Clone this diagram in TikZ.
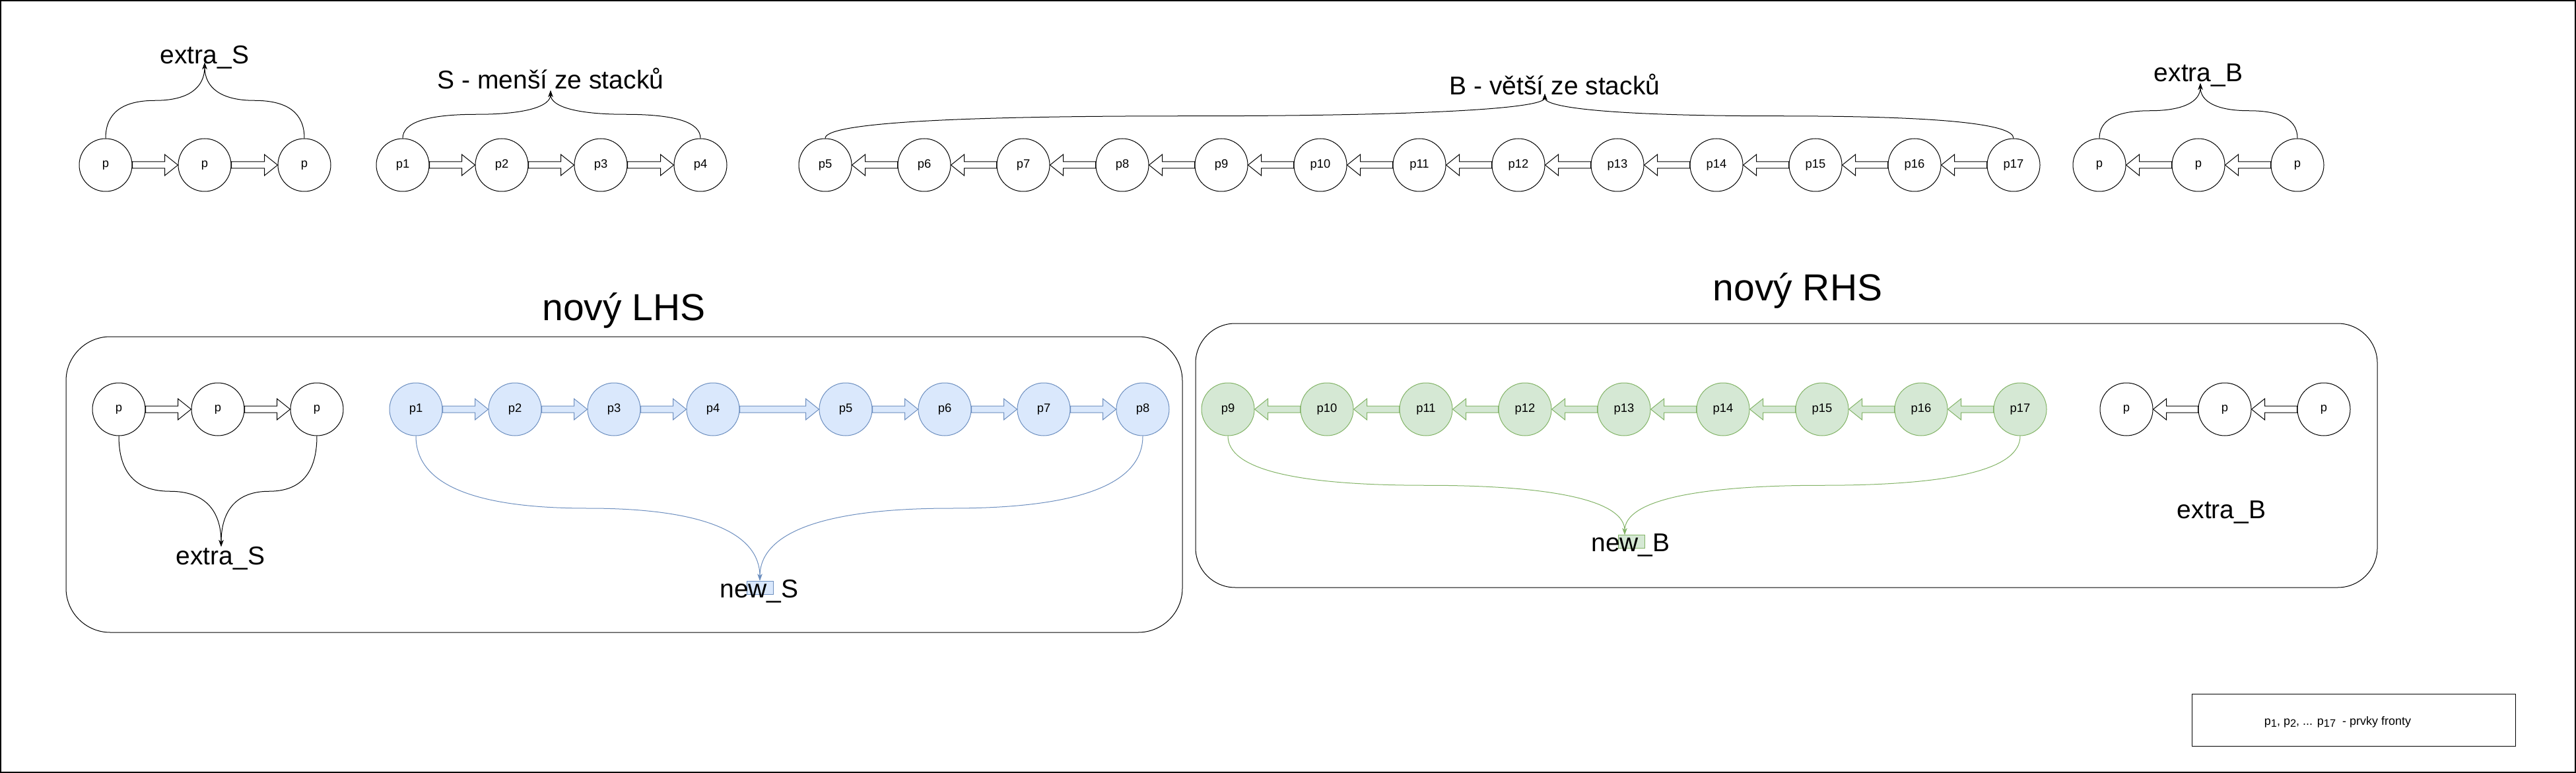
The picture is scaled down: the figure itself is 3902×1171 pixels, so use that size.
\documentclass[tikz,border=0pt]{standalone}
\usepackage{fontspec}
\setmainfont{Liberation Sans}
\usetikzlibrary{arrows.meta,calc}
\definecolor{bfill}{HTML}{DAE8FC}
\definecolor{bline}{HTML}{6C8EBF}
\definecolor{gfill}{HTML}{D5E8D4}
\definecolor{gline}{HTML}{82B366}
% flex arrow: #1 style, #2 start, #3 tip, #4 direction (1 right, -1 left)
\newcommand{\flexarr}[4]{%
  \filldraw[#1] let \p1=(#2), \p2=(#3) in
    ({\x1},{\y1+2.5pt}) -- ({\x2-(#4)*10pt},{\y1+2.5pt}) -- ({\x2-(#4)*10pt},{\y1+8pt})
    -- ({\x2},{\y1}) -- ({\x2-(#4)*10pt},{\y1-8pt}) -- ({\x2-(#4)*10pt},{\y1-2.5pt})
    -- ({\x1},{\y1-2.5pt}) -- cycle;}
% curved connector (drawio style): #1 style, #2 start, #3 end
\newcommand{\bcurve}[3]{%
  \draw[#1] let \p1=(#2), \p2=(#3) in
    (\p1) .. controls ({\x1},{\y1+(\y2-\y1)/3}) and ({(5*\x1+\x2)/6},{(\y1+\y2)/2})
    .. ({(\x1+\x2)/2},{(\y1+\y2)/2})
    .. controls ({(\x1+5*\x2)/6},{(\y1+\y2)/2}) and ({\x2},{\y2+(\y1-\y2)/3}) .. (\p2);}
\newcommand{\sbs}[1]{\raisebox{-0.35ex}{\fontsize{8.2}{9}\selectfont #1}}
\tikzset{
  circ/.style={circle, draw=black, fill=white, line width=0.5pt, minimum size=40pt,
    inner sep=0pt, font=\fontsize{9.2}{11}\selectfont},
  bcirc/.style={circ, draw=bline, fill=bfill},
  gcirc/.style={circ, draw=gline, fill=gfill},
  lbl/.style={font=\fontsize{19.5}{23}\selectfont, inner sep=0pt, anchor=base},
  ttl/.style={font=\fontsize{28.5}{34}\selectfont, inner sep=0pt, anchor=base},
  farr/.style={draw=black, fill=white, line width=0.5pt},
  bfarr/.style={draw=bline, fill=bfill, line width=0.5pt},
  gfarr/.style={draw=gline, fill=gfill, line width=0.5pt},
  conn/.style={draw=black, line width=0.5pt, -{Stealth[length=5pt,width=3.6pt]}},
  bconn/.style={conn, draw=bline, -{Stealth[length=5pt,width=3.6pt,color=bline]}},
  gconn/.style={conn, draw=gline, -{Stealth[length=5pt,width=3.6pt,color=gline]}},
  frame/.style={draw=black, line width=0.5pt, inner sep=0pt},
}
\begin{document}
\begin{tikzpicture}[x=0.5pt,y=-0.5pt]
\useasboundingbox (0,0) rectangle (3902,1171);
% outer frame
\node[frame, line width=1pt, minimum width=1950pt, minimum height=584.5pt] (outer) at (1951,585.5) {};
% group boxes
\node[frame, rounded corners=33.5pt, minimum width=845.5pt, minimum height=224pt] (lhsbox) at (945.5,734) {};
\node[frame, rounded corners=30pt, minimum width=895pt, minimum height=200pt] (rhsbox) at (2706,690) {};
\node[frame, minimum width=245pt, minimum height=39.5pt] (legbox) at (3565,1090.5) {};
% ---------------- top row ----------------
\node[circ] (tes1) at (160,250) {p};
\node[circ] (tes2) at (310,250) {p};
\node[circ] (tes3) at (461,250) {p};
\node[circ] (ts1) at (610,250) {p1};
\node[circ] (ts2) at (760,250) {p2};
\node[circ] (ts3) at (910,250) {p3};
\node[circ] (ts4) at (1061,250) {p4};
\foreach \i in {5,...,17} \node[circ] (tb\i) at ({1250+150*(\i-5)},250) {p\i};
\node[circ] (teb1) at (3180,250) {p};
\node[circ] (teb2) at (3330,250) {p};
\node[circ] (teb3) at (3480,250) {p};
\flexarr{farr}{tes1.east}{tes2.west}{1}
\flexarr{farr}{tes2.east}{tes3.west}{1}
\foreach \i/\j in {1/2,2/3,3/4} {\flexarr{farr}{ts\i.east}{ts\j.west}{1}}
\foreach \i/\j in {6/5,7/6,8/7,9/8,10/9,11/10,12/11,13/12,14/13,15/14,16/15,17/16}
  {\flexarr{farr}{tb\i.west}{tb\j.east}{-1}}
\flexarr{farr}{teb2.west}{teb1.east}{-1}
\flexarr{farr}{teb3.west}{teb2.east}{-1}
\node[lbl] (tES) at (310,97) {extra\_S};
\node[lbl] (tS) at (834,135) {S - menší ze stacků};
\node[lbl] (tB) at (2355,144) {B - větší ze stacků};
\node[lbl] (tEB) at (3330,124) {extra\_B};
\coordinate (tipTES) at (310,95);
\coordinate (tipTS) at (834,137);
\coordinate (tipTB) at (2340,142);
\coordinate (tipTEB) at (3333,126);
\bcurve{conn}{tes1.north}{tipTES}
\bcurve{conn}{tes3.north}{tipTES}
\bcurve{conn}{ts1.north}{tipTS}
\bcurve{conn}{ts4.north}{tipTS}
\bcurve{conn}{tb5.north}{tipTB}
\bcurve{conn}{tb17.north}{tipTB}
\bcurve{conn}{teb1.north}{tipTEB}
\bcurve{conn}{teb3.north}{tipTEB}
% ---------------- new LHS ----------------
\node[ttl] (tLHS) at (945,486) {nový LHS};
\node[circ] (les1) at (180,620) {p};
\node[circ] (les2) at (330,620) {p};
\node[circ] (les3) at (480,620) {p};
\node[bcirc] (lp1) at (630,620) {p1};
\node[bcirc] (lp2) at (780,620) {p2};
\node[bcirc] (lp3) at (930,620) {p3};
\node[bcirc] (lp4) at (1080,620) {p4};
\node[bcirc] (lp5) at (1281,620) {p5};
\node[bcirc] (lp6) at (1431,620) {p6};
\node[bcirc] (lp7) at (1581,620) {p7};
\node[bcirc] (lp8) at (1731,620) {p8};
\flexarr{farr}{les1.east}{les2.west}{1}
\flexarr{farr}{les2.east}{les3.west}{1}
\foreach \i/\j in {1/2,2/3,3/4,4/5,5/6,6/7,7/8} {\flexarr{bfarr}{lp\i.east}{lp\j.west}{1}}
\node[draw=bline, fill=bfill, line width=0.5pt, minimum width=20pt, minimum height=10pt, inner sep=0pt] (nsr) at (1151,890) {};
\node[lbl] (bES) at (334,855) {extra\_S};
\node[lbl] (bNS) at (1150,905) {new\_S};
\coordinate (tipBES) at (335,828);
\bcurve{conn}{les1.south}{tipBES}
\bcurve{conn}{les3.south}{tipBES}
\bcurve{bconn}{lp1.south}{nsr.north}
\bcurve{bconn}{lp8.south}{nsr.north}
% ---------------- new RHS ----------------
\node[ttl] (tRHS) at (2723,455) {nový RHS};
\foreach \i in {9,...,17} \node[gcirc] (rp\i) at ({1860+150*(\i-9)},620) {p\i};
\node[circ] (re1) at (3221,620) {p};
\node[circ] (re2) at (3370,620) {p};
\node[circ] (re3) at (3520,620) {p};
\foreach \i/\j in {10/9,11/10,12/11,13/12,14/13,15/14,16/15,17/16}
  {\flexarr{gfarr}{rp\i.west}{rp\j.east}{-1}}
\flexarr{farr}{re2.west}{re1.east}{-1}
\flexarr{farr}{re3.west}{re2.east}{-1}
\node[draw=gline, fill=gfill, line width=0.5pt, minimum width=20pt, minimum height=10pt, inner sep=0pt] (nbr) at (2471,820) {};
\node[lbl] (bNB) at (2470,835) {new\_B};
\node[lbl] (bEB) at (3365,785) {extra\_B};
\coordinate (tipBNB) at (2461,810);
\bcurve{gconn}{rp9.south}{tipBNB}
\bcurve{gconn}{rp17.south}{tipBNB}
% ---------------- legend ----------------
\node[font=\fontsize{9}{11}\selectfont, inner sep=0pt, anchor=base] (leg) at (3541,1098)
  {p\sbs{1}, p\sbs{2}, ... p\sbs{17}\ \ - prvky fronty};
\end{tikzpicture}
\end{document}
